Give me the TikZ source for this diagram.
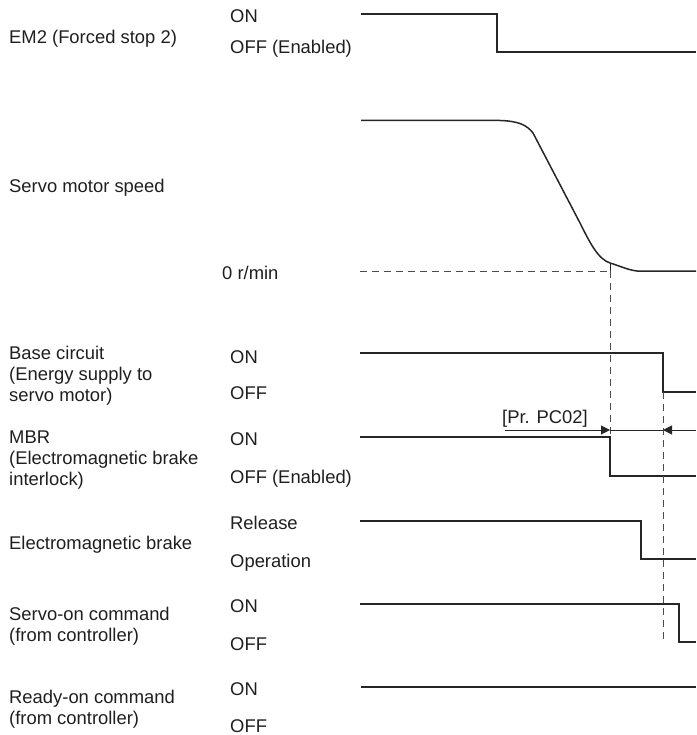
\documentclass[tikz,border=0pt]{standalone}
\usepackage{fontspec}
\setmainfont{Liberation Sans}
\usetikzlibrary{arrows.meta}
\begin{document}
\begin{tikzpicture}[x=1pt,y=-1pt,
  lbl/.style={anchor=base west,inner sep=0pt,text=black!88,font=\fontsize{18.4}{21}\selectfont},
  wave/.style={draw=black!85,line width=1.5pt,line join=miter},
  guide/.style={draw=black!70,line width=1pt,dash pattern=on 7pt off 5pt},
  dim/.style={draw=black!85,line width=1pt},
  tip/.style={-{Triangle[length=9pt,width=9pt]}}]
\useasboundingbox (0,0) rectangle (696,735);
% left labels
\node[lbl] (em2) at (9,43.5) {EM2 (Forced stop 2)};
\node[lbl] (spd) at (9,192.5) {Servo motor speed};
\node[lbl] (bc1) at (9,359.5) {Base circuit};
\node[lbl] (bc2) at (9,380.5) {(Energy supply to};
\node[lbl] (bc3) at (9,401.5) {servo motor)};
\node[lbl] (mbr1) at (9,443.5) {MBR};
\node[lbl] (mbr2) at (9,464.5) {(Electromagnetic brake};
\node[lbl] (mbr3) at (9,485.5) {interlock)};
\node[lbl] (emb) at (9,549.5) {Electromagnetic brake};
\node[lbl] (son1) at (9,620.5) {Servo-on command};
\node[lbl] (son2) at (9,641.5) {(from controller)};
\node[lbl] (ron1) at (9,703.5) {Ready-on command};
\node[lbl] (ron2) at (9,724.5) {(from controller)};
% state labels
\node[lbl] (em2on) at (230,22.5) {ON};
\node[lbl] (em2off) at (230,53.5) {OFF (Enabled)};
\node[lbl] (zero) at (222,279.5) {0 r/min};
\node[lbl] (bcon) at (230,363.5) {ON};
\node[lbl] (bcoff) at (230,399.5) {OFF};
\node[lbl] (mbron) at (230,445.5) {ON};
\node[lbl] (mbroff) at (230,483.5) {OFF (Enabled)};
\node[lbl] (rel) at (230,529.5) {Release};
\node[lbl] (opr) at (230,567.5) {Operation};
\node[lbl] (sonon) at (230,612.5) {ON};
\node[lbl] (sonoff) at (230,650.5) {OFF};
\node[lbl] (ronon) at (230,695) {ON};
\node[lbl] (ronoff) at (230,732.5) {OFF};
\node[lbl] (pc02) at (502,423.5) {[Pr. PC02]};
% key coordinates
\coordinate (stop) at (610,263);
\coordinate (zero0) at (360,271);
\coordinate (zeroS) at (610,271);
\coordinate (mbrOn) at (610,437);
\coordinate (bcOff) at (663,392);
\coordinate (sonOff) at (663,642);
\coordinate (arrL) at (505,430);
\coordinate (arrA) at (610,430);
\coordinate (arrB) at (663,430);
\coordinate (arrR) at (696,430);
% waveforms
\draw[wave] (361,14) -- (497,14) -- (497,52) -- (696,52);
\draw[wave] (361,120.3) -- (500,120.5) .. controls (518,121) and (527,125) .. (533,133)
  -- (580,223) .. controls (590,243) and (598,259) .. (stop)
  .. controls (620,266) and (628,270) .. (637,271) -- (696,271);
\draw[dim] (stop) -- (zeroS);
\draw[wave] (360,353) -- (663,353) -- (bcOff) -- (696,392);
\draw[wave] (360,437) -- (mbrOn) -- (610,476) -- (696,476);
\draw[wave] (360,521) -- (641,521) -- (641,559) -- (696,559);
\draw[wave] (360,604) -- (679,604) -- (679,642) -- (696,642);
\draw[wave] (361,687) -- (696,687);
% guides
\draw[guide] (zero0) -- (zeroS);
\draw[guide] (zeroS) -- (mbrOn);
\draw[guide] (bcOff) -- (sonOff);
% dimension
\draw[dim,tip] (arrL) -- (arrA);
\draw[dim] (arrA) -- (arrB);
\draw[dim,tip] (arrR) -- (arrB);
\end{tikzpicture}
\end{document}
